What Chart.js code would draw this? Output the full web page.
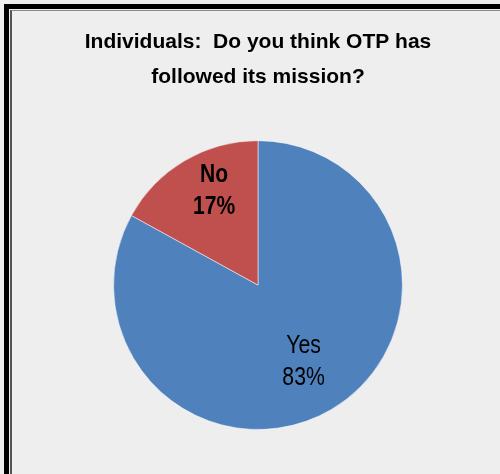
<!DOCTYPE html>
<html>
<head>
<meta charset="utf-8">
<script src="https://cdn.jsdelivr.net/npm/chart.js@4.4.0/dist/chart.umd.min.js"></script>
<style>
  html, body { margin: 0; padding: 0; background: #eeeeee; }
  body { width: 500px; height: 474px; position: relative; overflow: hidden; }
  .frame {
    position: absolute; left: 4px; top: 4px; right: -10px; bottom: -10px;
    border-left: 5px solid #000; border-top: 5px solid #000;
  }
  .frame-inner {
    position: absolute; left: 1px; top: 1px; right: 0; bottom: 0;
    border-left: 2px solid #555; border-top: 1px solid #888;
  }
  #chart { position: absolute; left: 0; top: 0; }
</style>
</head>
<body>
<div class="frame"><div class="frame-inner"></div></div>
<canvas id="chart" width="500" height="474"></canvas>
<script>
const categories = ["Yes", "No"];
const shares = [83, 17];
const sliceColors = ['rgb(79, 129, 189)', 'rgb(192, 80, 77)'];
const titleLines = ["Individuals:  Do you think OTP has", "followed its mission?"];

const sans = "'Liberation Sans', Arial, sans-serif";

// writes "Category\nNN%" inside each slice, squeezed to look like a narrow face
const sliceLabels = {
  id: 'sliceLabels',
  afterDatasetsDraw(chart) {
    const ctx = chart.ctx;
    const meta = chart.getDatasetMeta(0);
    const setups = [
      { dist: 0.62, turn: 0, weight: 'normal', size: 25, squeeze: 0.85 },
      { dist: 0.72, turn: 5.6, weight: 'bold', size: 26, squeeze: 0.81 }
    ];
    meta.data.forEach((arc, i) => {
      const s = setups[i];
      const p = arc.getProps(['x', 'y', 'startAngle', 'endAngle', 'outerRadius'], true);
      const mid = (p.startAngle + p.endAngle) / 2 + s.turn * Math.PI / 180;
      const r = p.outerRadius * s.dist;
      const cx = p.x + Math.cos(mid) * r;
      const cy = p.y + Math.sin(mid) * r;
      ctx.save();
      ctx.translate(cx, cy);
      ctx.scale(s.squeeze, 1);
      ctx.fillStyle = '#000';
      ctx.textAlign = 'center';
      ctx.textBaseline = 'middle';
      ctx.font = s.weight + ' ' + s.size + 'px ' + sans;
      ctx.fillText(categories[i], 0, -16);
      ctx.fillText(shares[i] + '%', 0, 16);
      ctx.restore();
    });
  }
};

new Chart(document.getElementById('chart'), {
  type: 'pie',
  data: {
    labels: categories,
    datasets: [{
      data: shares,
      backgroundColor: sliceColors,
      borderColor: 'rgba(255,255,255,0.5)',
      borderWidth: 1
    }]
  },
  options: {
    responsive: false,
    animation: false,
    layout: { padding: { left: 16, right: 0, top: 0, bottom: 44 } },
    plugins: {
      legend: { display: false },
      tooltip: { enabled: false },
      title: {
        display: true,
        text: titleLines,
        color: '#000',
        font: { family: sans, size: 21, weight: 'bold', lineHeight: 1.67 },
        padding: { top: 25, bottom: 45 }
      }
    }
  },
  plugins: [sliceLabels]
});
</script>
</body>
</html>
